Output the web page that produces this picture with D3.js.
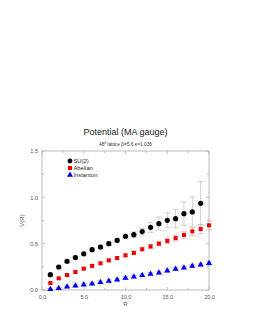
<!DOCTYPE html>
<html><head><meta charset="utf-8">
<script src="https://cdn.jsdelivr.net/npm/d3@7"></script>
<style>body{margin:0;background:#fff}svg{display:block}</style>
</head><body>
<svg id="c" width="253" height="327"></svg>
<script>
const R = [1,2,3,4,5,6,7,8,9,10,11,12,13,14,15,16,17,18,19,20];
const su2 = [0.165,0.248,0.31,0.35,0.39,0.435,0.464,0.50,0.536,0.58,0.597,0.63,0.676,0.716,0.752,0.77,0.824,0.842,0.935];
const su2Err = [0.015,0.015,0.015,0.016,0.017,0.018,0.02,0.02,0.022,0.025,0.03,0.036,0.054,0.07,0.08,0.1,0.126,0.16,0.235];
const abel = [0.075,0.126,0.162,0.194,0.23,0.26,0.288,0.32,0.345,0.374,0.40,0.44,0.47,0.50,0.53,0.56,0.594,0.633,0.658,0.698];
const abelErr = [0.012,0.012,0.013,0.013,0.014,0.014,0.015,0.015,0.016,0.017,0.018,0.02,0.022,0.025,0.028,0.03,0.035,0.045,0.05,0.05];
const inst = [0.007,0.02,0.036,0.047,0.058,0.068,0.083,0.097,0.11,0.13,0.144,0.158,0.173,0.187,0.209,0.227,0.241,0.259,0.273,0.288];
const instErr = [0.012,0.012,0.012,0.013,0.013,0.013,0.014,0.014,0.014,0.015,0.015,0.015,0.016,0.016,0.016,0.017,0.017,0.018,0.018,0.018];
const xTicks = [0,5,10,15,20];
const yTicks = [0,0.5,1.0,1.5];
const seriesNames = ["SU(2)","Abelian","Instanton"];

const svg = d3.select("#c");
const L=42, Rt=209, T=151, B=290;
const x = d3.scaleLinear().domain([0,20]).range([L,Rt]);
const y = d3.scaleLinear().domain([0,1.5]).range([B,T]);
const frame = "#aaa", font = "Helvetica, Arial, 'Liberation Sans', sans-serif";

// frame
svg.append("rect").attr("x",L).attr("y",T).attr("width",Rt-L).attr("height",B-T)
  .attr("fill","none").attr("stroke",frame).attr("stroke-width",0.8);

// ticks (inside, all sides)
const xMinor = d3.range(0,20.01,2.5), yMinor = d3.range(0,1.501,0.25);
xMinor.forEach(v=>{
  const len = xTicks.includes(v)?3:2;
  svg.append("line").attr("x1",x(v)).attr("x2",x(v)).attr("y1",B).attr("y2",B-len).attr("stroke",frame).attr("stroke-width",0.7);
  svg.append("line").attr("x1",x(v)).attr("x2",x(v)).attr("y1",T).attr("y2",T+len).attr("stroke",frame).attr("stroke-width",0.7);
});
yMinor.forEach(v=>{
  const len = yTicks.includes(v)?3:2;
  svg.append("line").attr("y1",y(v)).attr("y2",y(v)).attr("x1",L).attr("x2",L+len).attr("stroke",frame).attr("stroke-width",0.7);
  svg.append("line").attr("y1",y(v)).attr("y2",y(v)).attr("x1",Rt).attr("x2",Rt-len).attr("stroke",frame).attr("stroke-width",0.7);
});

// axes labels via d3 axes (tick text only)
const xAxis = svg.append("g").attr("transform",`translate(0,${B})`)
  .call(d3.axisBottom(x).tickValues(xTicks).tickFormat(d3.format(".1f")).tickSize(0).tickPadding(5));
const yAxis = svg.append("g").attr("transform",`translate(${L},0)`)
  .call(d3.axisLeft(y).tickValues(yTicks).tickFormat(d3.format(".1f")).tickSize(0).tickPadding(4));
[xAxis,yAxis].forEach(g=>{
  g.select(".domain").remove();
  g.selectAll("text").attr("font-size",5.5).attr("fill","#555").attr("font-family",font);
});

svg.append("text").attr("x",(L+Rt)/2).attr("y",306).attr("text-anchor","middle")
  .attr("font-size",6).attr("fill","#555").attr("font-family",font).text("R");
svg.append("text").attr("transform",`translate(24,${(T+B)/2}) rotate(-90)`).attr("text-anchor","middle")
  .attr("font-size",6).attr("fill","#555").attr("font-family",font).text("V(R)");

// title
svg.append("text").attr("x",(L+Rt)/2).attr("y",135).attr("text-anchor","middle")
  .attr("font-size",9).attr("fill","#222").attr("font-family",font).text("Potential (MA gauge)");
const sub = svg.append("text").attr("x",(L+Rt)/2).attr("y",146).attr("text-anchor","middle")
  .attr("font-size",4.8).attr("fill","#333").attr("font-family",font);
sub.append("tspan").text("48");
sub.append("tspan").attr("dy",-1.8).attr("font-size",3).text("4");
sub.append("tspan").attr("dy",1.8).text(" lattice β=5.6  κ=1.035");

// error bars
function errBars(vals, errs, color){
  const g = svg.append("g");
  vals.forEach((v,i)=>{
    const cx = x(R[i]), e = errs[i];
    g.append("line").attr("x1",cx).attr("x2",cx).attr("y1",y(v-e)).attr("y2",y(v+e)).attr("stroke",color).attr("stroke-width",0.7);
    [v-e,v+e].forEach(w=>g.append("line").attr("x1",cx-3).attr("x2",cx+3).attr("y1",y(w)).attr("y2",y(w)).attr("stroke",color).attr("stroke-width",0.7));
  });
}
errBars(inst, instErr, "#a8a8ff");
errBars(abel, abelErr, "#f5a8a8");
errBars(su2, su2Err, "#bbb");

// markers
const tri = d3.symbol().type(d3.symbolTriangle).size(16);
svg.append("g").selectAll("path").data(inst).join("path")
  .attr("d",tri).attr("transform",(d,i)=>`translate(${x(R[i])},${y(d)})`).attr("fill","#0000ee");
svg.append("g").selectAll("rect").data(abel).join("rect")
  .attr("x",(d,i)=>x(R[i])-2).attr("y",d=>y(d)-2).attr("width",4).attr("height",4).attr("fill","#ee0000");
svg.append("g").selectAll("circle").data(su2).join("circle")
  .attr("cx",(d,i)=>x(R[i])).attr("cy",d=>y(d)).attr("r",2.6).attr("fill","#000");

// legend
const lg = svg.append("g");
const ly = [161,168,175];
lg.append("circle").attr("cx",70).attr("cy",ly[0]).attr("r",2.4).attr("fill","#000");
lg.append("rect").attr("x",68).attr("y",ly[1]-2).attr("width",4).attr("height",4).attr("fill","#ee0000");
lg.append("path").attr("d",tri).attr("transform",`translate(70,${ly[2]})`).attr("fill","#0000ee");
seriesNames.forEach((n,i)=>lg.append("text").attr("x",73.5).attr("y",ly[i]+2).attr("font-size",5.8)
  .attr("fill","#222").attr("font-family",font).text(n));
</script>
</body></html>
